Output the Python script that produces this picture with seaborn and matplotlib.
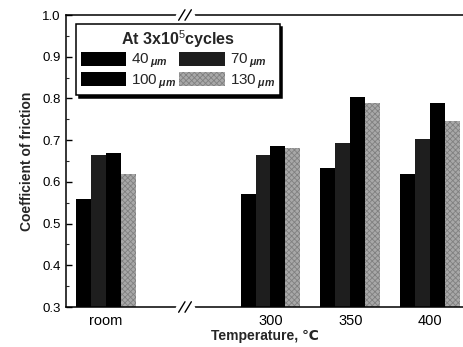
import matplotlib
matplotlib.use("Agg")
import matplotlib.pyplot as plt
import seaborn as sns
import pandas as pd
from matplotlib.patches import Patch

# ---- data ----
categories = ["room", "300", "350", "400"]
cat_pos = [197, 300, 350, 400]          # numeric axis position of each group (broken axis)
sizes = ["40", "70", "100", "130"]      # groove size, μm
cof_40 = [0.560, 0.572, 0.633, 0.619]
cof_70 = [0.664, 0.665, 0.693, 0.703]
cof_100 = [0.669, 0.686, 0.803, 0.790]
cof_130 = [0.619, 0.680, 0.790, 0.747]
colors = ["#000000", "#1e1e1e", "#000000", "#a8a8a8"]

rows = []
for s, vals in zip(sizes, [cof_40, cof_70, cof_100, cof_130]):
    for p, v in zip(cat_pos, vals):
        rows.append({"pos": p, "size": s, "cof": v})
df = pd.DataFrame(rows)

sns.set_theme(style="white")
plt.rcParams["font.family"] = ["Liberation Sans", "DejaVu Sans"]
plt.rcParams["mathtext.fontset"] = "custom"
plt.rcParams["mathtext.it"] = "Liberation Sans:italic:bold"
plt.rcParams["mathtext.rm"] = "Liberation Sans"
plt.rcParams["hatch.linewidth"] = 0.6

fig = plt.figure(figsize=(4.63, 3.47), dpi=100)
ax = fig.add_axes([66 / 463, 1 - 307 / 347, 1 - 66 / 463, (307 - 15) / 347])

sns.barplot(data=df, x="pos", y="cof", hue="size", hue_order=sizes,
            palette=colors, native_scale=True, width=0.75, dodge=True,
            saturation=1, edgecolor="none", linewidth=0, legend=False, ax=ax)

HATCH = "xxxxxx"
HATCH_COL = "#808080"
for bar in ax.patches:
    if abs(bar.get_facecolor()[0] - 0xa8 / 255) < 0.01:
        bar.set_hatch(HATCH)
        bar.set_edgecolor(HATCH_COL)
        bar.set_linewidth(0)

ax.set_xlim(172, 420.5)
ax.set_ylim(0.3, 1.0)
ax.set_xticks(cat_pos)
ax.set_xticklabels(categories)
yt = [0.3, 0.4, 0.5, 0.6, 0.7, 0.8, 0.9, 1.0]
ax.set_yticks(yt)
ax.set_yticklabels([f"{v:.1f}" for v in yt])
ax.set_yticks([0.35, 0.45, 0.55, 0.65, 0.75, 0.85, 0.95], minor=True)
ax.tick_params(axis="y", which="major", direction="in", length=4, width=1,
               labelsize=9.5, pad=4, left=True, colors="black")
ax.tick_params(axis="y", which="minor", direction="in", length=2.5, width=0.8, left=True)
ax.tick_params(axis="x", length=0, labelsize=10.5, pad=5, colors="black")

for side in ["left", "bottom", "top"]:
    ax.spines[side].set_visible(True)
    ax.spines[side].set_color("black")
    ax.spines[side].set_linewidth(1.1)
ax.spines["right"].set_visible(False)

ax.set_xlabel("Temperature, ℃", fontsize=10, fontweight="bold", labelpad=1)
ax.set_ylabel("Coefficient of friction", fontsize=10, fontweight="bold", labelpad=6)

# axis break markers
bx = (185 - 66) / (463 - 66)
for yb in [0.0, 1.0]:
    ax.plot([bx - 0.02, bx + 0.02], [yb, yb], transform=ax.transAxes, color="white",
            lw=2.5, clip_on=False, zorder=5)
    for dx in [-0.008, 0.008]:
        ax.plot([bx + dx - 0.008, bx + dx + 0.008], [yb - 0.018, yb + 0.018],
                transform=ax.transAxes, color="black", lw=1, clip_on=False, zorder=6)

# legend
order = [0, 2, 1, 3]
handles = []
for i in order:
    h = Patch(facecolor=colors[i], edgecolor=HATCH_COL if i == 3 else "none",
              hatch=HATCH if i == 3 else None, linewidth=0)
    handles.append(h)
labels = [sizes[i] + r"$\,_{\mu m}$" for i in order]
leg = ax.legend(handles, labels, ncol=2, title="At 3x10$^{\\mathrm{5}}$cycles",
                loc="upper left", bbox_to_anchor=(0.025, 0.97), borderaxespad=0,
                frameon=True, fancybox=False, shadow={"color": "black", "alpha": 1},
                handlelength=3.0, handleheight=1.0, handletextpad=0.3,
                columnspacing=0.2, labelspacing=0.12, borderpad=0.3,
                fontsize=11, title_fontproperties={"weight": "bold", "size": 11.5})
leg.get_frame().set_edgecolor("black")
leg.get_frame().set_linewidth(1.1)
leg.get_frame().set_alpha(1)

fig.savefig("out.png", dpi=100)
